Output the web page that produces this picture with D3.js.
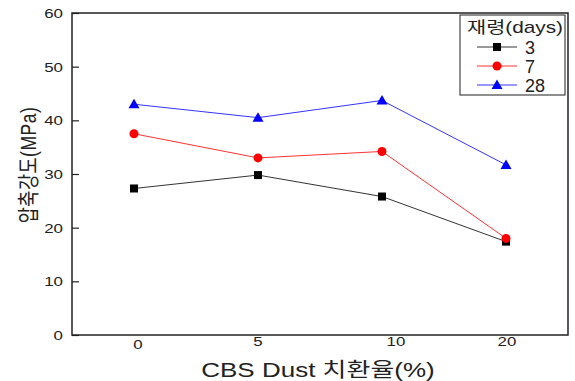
<!DOCTYPE html>
<html>
<head>
<meta charset="utf-8">
<script src="https://cdn.jsdelivr.net/npm/d3@7"></script>
<style>
  body { margin: 0; background: #fff; }
  svg text { font-family: "Liberation Sans", Arial, "Noto Sans CJK KR", sans-serif; fill: #222; }
</style>
</head>
<body>
<div class="container"></div>
<script>
// data
const categories = ['0', '5', '10', '20'];
const ages = ['3', '7', '28'];
const day3 = [27.3, 29.8, 25.8, 17.4];
const day7 = [37.5, 33.0, 34.2, 18.0];
const day28 = [43.0, 40.5, 43.7, 31.7];
const yTicks = [0, 10, 20, 30, 40, 50, 60];

const W = 575, H = 381;
const margin = {top: 13, right: 7, bottom: 46, left: 72};
const width = W - margin.left - margin.right,
      height = H - margin.top - margin.bottom;
const stretch = 1.3; // the original text looks widened horizontally

const series = [
    {name: ages[0], values: day3, color: '#000', marker: 'square'},
    {name: ages[1], values: day7, color: '#ff0000', marker: 'circle'},
    {name: ages[2], values: day28, color: '#0000ff', marker: 'triangle'}
];

let svg = d3.select('.container')
    .append('svg')
    .attr('width', W)
    .attr('height', H);

let g = svg.append('g')
    .attr('transform', 'translate(' + margin.left + ',' + margin.top + ')');

let x = d3.scalePoint().domain(categories).range([0, width]).padding(0.5);
let y = d3.scaleLinear().domain([0, 60]).range([height, 0]);

// y axis, ticks pointing inward
let yAxis = d3.axisRight(y).tickValues(yTicks).tickSize(7).tickFormat(d3.format('d'));
let ya = g.append('g').call(yAxis);
ya.select('.domain').remove();
ya.selectAll('line').attr('stroke', '#222').attr('stroke-width', 1.2);
ya.selectAll('text')
    .attr('x', 0)
    .attr('dy', '0.35em')
    .attr('transform', 'translate(-9,0) scale(' + stretch + ',1)')
    .style('text-anchor', 'end')
    .style('font-size', '13px');

// x tick labels (no tick marks); small nudges like the original
const labelNudge = [[4, 2], [0, -1], [14, -1], [1, -1]];
g.append('g')
    .selectAll('text')
    .data(categories)
    .enter().append('text')
    .attr('transform', (d, i) => 'translate(' + (x(d) + labelNudge[i][0]) + ',' +
        (height + 12 + labelNudge[i][1]) + ') scale(' + stretch + ',1)')
    .style('text-anchor', 'middle')
    .style('font-size', '13px')
    .text(d => d);

// frame
g.append('rect')
    .attr('width', width)
    .attr('height', height)
    .attr('fill', 'none')
    .attr('stroke', '#222')
    .attr('stroke-width', 1.5);

let line = d3.line()
    .x((d, i) => x(categories[i]))
    .y(d => y(d));

function drawMarker(sel, type, color) {
    if (type === 'square') {
        sel.append('rect').attr('x', -4).attr('y', -4).attr('width', 8).attr('height', 8).attr('fill', color);
    } else if (type === 'circle') {
        sel.append('circle').attr('r', 4.5).attr('fill', color);
    } else {
        sel.append('path').attr('d', 'M0,-5.5L5.5,4L-5.5,4Z').attr('fill', color);
    }
}

series.forEach(s => {
    g.append('path')
        .datum(s.values)
        .attr('fill', 'none')
        .attr('stroke', s.color)
        .attr('stroke-width', 1)
        .attr('stroke-opacity', 0.8)
        .attr('d', line);
    g.append('g')
        .selectAll('g')
        .data(s.values)
        .enter().append('g')
        .attr('transform', (d, i) => 'translate(' + x(categories[i]) + ',' + y(d) + ')')
        .each(function () { drawMarker(d3.select(this), s.marker, s.color); });
});

// legend
let legend = svg.append('g').attr('transform', 'translate(460,15)');
legend.append('rect')
    .attr('width', 105)
    .attr('height', 80)
    .attr('fill', '#fff')
    .attr('stroke', '#444')
    .attr('stroke-width', 1.2);
legend.append('text')
    .attr('transform', 'translate(7,18) scale(1.3,1)')
    .style('font-size', '16px')
    .text('재령(days)');
series.forEach((s, i) => {
    let row = legend.append('g').attr('transform', 'translate(0,' + (32 + i * 19) + ')');
    row.append('line')
        .attr('x1', 17).attr('x2', 57)
        .attr('stroke', s.color)
        .attr('stroke-width', 1)
        .attr('stroke-opacity', 0.8);
    let m = row.append('g').attr('transform', 'translate(37,0)');
    drawMarker(m, s.marker, s.color);
    row.append('text')
        .attr('x', 65)
        .attr('dy', '0.38em')
        .style('font-size', '18px')
        .text(s.name);
});

// axis titles
svg.append('text')
    .attr('transform', 'translate(36,165) rotate(-90) scale(1,1.25)')
    .style('text-anchor', 'middle')
    .style('font-size', '17.5px')
    .style('letter-spacing', '0.5px')
    .text('압축강도(MPa)');

svg.append('text')
    .attr('transform', 'translate(318,377) scale(' + stretch + ',1)')
    .style('text-anchor', 'middle')
    .style('font-size', '20px')
    .text('CBS Dust 치환율(%)');
</script>
</body>
</html>
